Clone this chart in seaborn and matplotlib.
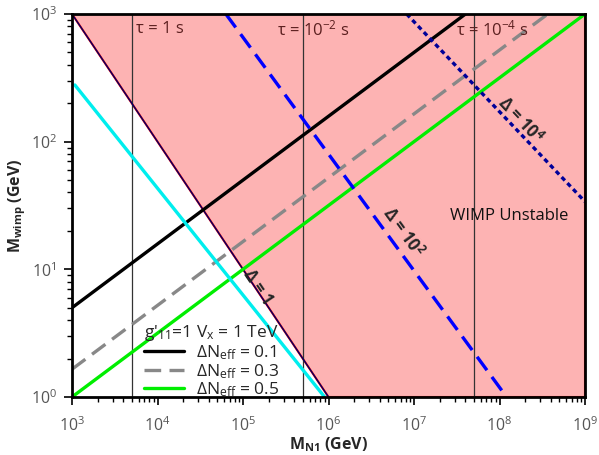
import matplotlib
matplotlib.use("Agg")
import matplotlib.pyplot as plt
import seaborn as sns
import pandas as pd
import numpy as np
from matplotlib.lines import Line2D

# ---- data ----
x_lim = [1e3, 1e9]
y_lim = [1e0, 1e3]

neff_labels = ["0.1", "0.3", "0.5"]
neff01_x = [1e3, 4.0e7]
neff01_y = [5.0, 1e3]
neff03_x = [1e3, 3.67e8]
neff03_y = [1.65, 1e3]
neff05_x = [1e3, 1e9]
neff05_y = [1.0, 1e3]

cyan_x = [1.08e3, 9.0e5]
cyan_y = [278.0, 1.0]

delta1_x = [1e3, 1e6]
delta1_y = [1e3, 1.0]
delta2_x = [6.3e4, 1.21e8]
delta2_y = [1e3, 1.0]
delta4_x = [8.2e6, 1e9]
delta4_y = [1e3, 33.9]

tau_x = [5e3, 5e5, 5e7]
tau_labels = [r"τ = 1 s", r"τ = 10$^{\mathregular{-2}}$ s", r"τ = 10$^{\mathregular{-4}}$ s"]

sns.set_theme(style="ticks")
plt.rcParams['font.family'] = ['Open Sans', 'DejaVu Sans']
plt.rcParams['mathtext.fontset'] = 'custom'
plt.rcParams['mathtext.rm'] = 'Open Sans'
plt.rcParams['mathtext.it'] = 'Open Sans'
plt.rcParams['mathtext.bf'] = 'Open Sans:bold'

fig = plt.figure(figsize=(5.99, 4.55), dpi=100)
ax = fig.add_axes([72/599, 1-397/455, (585-72)/599, (397-14)/455])
ax.set_xscale("log")
ax.set_yscale("log")
ax.set_xlim(*x_lim)
ax.set_ylim(*y_lim)

# WIMP unstable region
poly_x = list(delta1_x) + [x_lim[1], x_lim[1]]
poly_y = list(delta1_y) + [y_lim[0], y_lim[1]]
ax.fill(poly_x, poly_y, facecolor="#fdb3b3", edgecolor="#ff0000", lw=1.5, zorder=1)

for tx in tau_x:
    ax.axvline(tx, color="#333333", lw=0.9, zorder=2)

ax.plot(delta1_x, delta1_y, color="#000066", lw=1.0, zorder=3)

df = pd.concat([
    pd.DataFrame({"x": neff01_x, "y": neff01_y, "s": "0.1"}),
    pd.DataFrame({"x": neff03_x, "y": neff03_y, "s": "0.3"}),
    pd.DataFrame({"x": neff05_x, "y": neff05_y, "s": "0.5"}),
])
sns.lineplot(data=df, x="x", y="y", hue="s", style="s",
             palette={"0.1": "black", "0.3": "#888888", "0.5": "#00ee00"},
             dashes={"0.1": "", "0.3": (5, 2.5), "0.5": ""},
             lw=2.4, ax=ax, legend=False, zorder=4, sort=False)

sns.lineplot(x=cyan_x, y=cyan_y, color="#00eeee", lw=2.4, ax=ax, zorder=4, sort=False)
sns.lineplot(x=delta2_x, y=delta2_y, color="#0000ff", lw=2.4, ax=ax, zorder=4, sort=False)
ax.lines[-1].set_dashes((5, 2.5))
sns.lineplot(x=delta4_x, y=delta4_y, color="#000099", lw=2.4, ax=ax, zorder=4, sort=False)
ax.lines[-1].set_dashes((1.4, 1.1))

# legend
handles = [Line2D([], [], color="black", lw=2.4),
           Line2D([], [], color="#888888", lw=2.4, dashes=(5, 2.5)),
           Line2D([], [], color="#00ee00", lw=2.4)]
labels = [r"ΔN$_{\mathregular{eff}}$ = " + v for v in neff_labels]
leg = ax.legend(handles, labels, title=r"g'$_{\mathregular{11}}$=1 V$_{\mathregular{x}}$ = 1 TeV",
                loc="upper left", bbox_to_anchor=(132/599, 1-311/455),
                bbox_transform=fig.transFigure, frameon=False, fontsize=12.5,
                title_fontsize=12.5, handlelength=2.3, handletextpad=0.7,
                labelspacing=0.0, borderpad=0.2)
leg._legend_box.align = "left"
leg.set_zorder(6)

# text labels
tau_text_x = [5.6e3, 2.5e5, 3.1e7]
for tx, lab in zip(tau_text_x, tau_labels):
    ax.text(tx, 760, lab, color="#5b1f1f", fontsize=12, ha="left", va="center", zorder=5)

ax.text(1.5e5, 7.3, "Δ = 1", rotation=-56, fontsize=12, fontweight="bold",
        ha="center", va="center", zorder=5)
ax.text(7.4e6, 19.6, r"Δ = 10$^{\mathbf{2}}$", rotation=-54, fontsize=12, fontweight="bold",
        ha="center", va="center", zorder=5)
ax.text(1.74e8, 148, r"Δ = 10$^{\mathbf{4}}$", rotation=-46.5, fontsize=12, fontweight="bold",
        ha="center", va="center", zorder=5)
ax.text(1.3e8, 26.2, "WIMP Unstable", fontsize=12, ha="center", va="center", color="#111111", zorder=5)

ax.set_xlabel(r"M$_{\mathbf{N1}}$ (GeV)", fontsize=11.5, fontweight="bold", labelpad=0)
ax.set_ylabel(r"M$_{\mathbf{wimp}}$ (GeV)", fontsize=11.5, fontweight="bold", labelpad=2)

for s in ax.spines.values():
    s.set_linewidth(2)
    s.set_color("black")
    s.set_zorder(7)
ax.tick_params(which="major", direction="out", length=6, width=1.2, labelsize=11.5,
               labelcolor="#555555", color="black")
ax.tick_params(axis="x", which="major", pad=8)
ax.tick_params(axis="y", which="major", pad=5)
ax.tick_params(which="minor", direction="out", length=3.5, width=1.0, color="black")
ax.set_xticks([1e3, 1e4, 1e5, 1e6, 1e7, 1e8, 1e9])
ax.set_yticks([1e0, 1e1, 1e2, 1e3])

fig.savefig("out.png", dpi=100, facecolor="white")
